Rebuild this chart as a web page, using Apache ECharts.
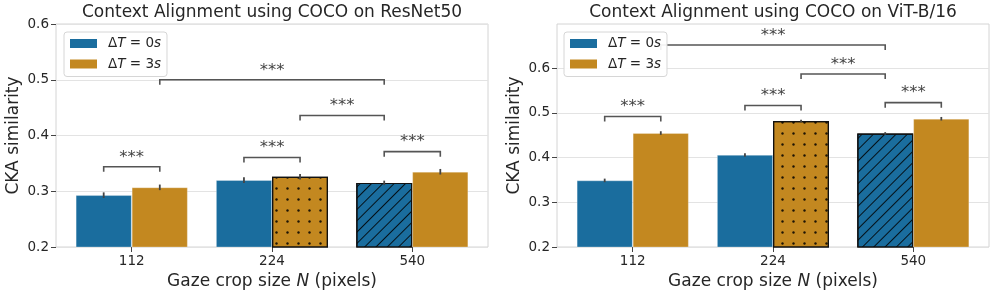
<!DOCTYPE html>
<html><head><meta charset="utf-8">
<script src="https://cdn.jsdelivr.net/npm/echarts@6/dist/echarts.min.js"></script>
<style>html,body{margin:0;padding:0;background:#fff}#c{width:996px;height:295px}</style>
</head><body><div id="c"></div>
<script>
// ---- data ----
const categories = ['112', '224', '540'];
const seriesNames = ['ΔT = 0s', 'ΔT = 3s'];
const resnet0 = [0.293, 0.320, 0.315];
const resnet3 = [0.307, 0.326, 0.335];
const resnet0Err = [0.005, 0.005, 0.004];
const resnet3Err = [0.005, 0.005, 0.005];
const vit0 = [0.349, 0.406, 0.454];
const vit3 = [0.455, 0.482, 0.487];
const vit0Err = [0.004, 0.004, 0.003];
const vit3Err = [0.004, 0.003, 0.004];
// brackets: [category1, group1, category2, group2, y]
const resnetBrackets = [[0,0,0,1,0.344],[1,0,1,1,0.3606],[2,0,2,1,0.371],[1,1,2,0,0.436],[0,1,2,0,0.500]];
const vitBrackets = [[0,0,0,1,0.492],[1,0,1,1,0.5165],[2,0,2,1,0.523],[1,1,2,0,0.587],[0,1,2,0,0.652]];
const yTickValues = [0.2, 0.3, 0.4, 0.5, 0.6];
const titles = ['Context Alignment using COCO on ResNet50', 'Context Alignment using COCO on ViT-B/16'];

// ---- style ----
const FONT = 'DejaVu Sans';
const BLUE = '#1a6d9e', ORANGE = '#c38820', TXT = '#262626';
const OFF = 0.2; // half group offset in category units
const decalDots = { symbol: 'circle', symbolSize: 0.8, color: 'rgba(0,0,0,0.85)', dashArrayX: [3, 8], dashArrayY: [3, 8] };
const decalLines = { symbol: 'rect', symbolSize: 1, color: 'rgba(0,0,0,0.85)', dashArrayX: [1, 0], dashArrayY: [1, 7], rotation: -Math.PI / 4 };

const grids = [
  { left: 56, right: 508, top: 24, bottom: 48 },
  { left: 557, right: 7, top: 24, bottom: 48 }
];

function xAxisFor(gi) {
  return {
    type: 'value', gridIndex: gi, min: -0.54, max: 2.54,
    axisLine: { show: false, onZero: false }, splitLine: { show: false },
    axisTick: { show: true, customValues: [0, 1, 2], length: 5, lineStyle: { color: '#444', width: 1 } },
    axisLabel: { customValues: [0, 1, 2], formatter: v => categories[Math.round(v)], fontSize: 13.5, fontFamily: FONT, color: TXT, margin: 7 },
    name: '{a|Gaze crop size }{i|N}{a| (pixels)}', nameLocation: 'middle', nameGap: 23,
    nameTextStyle: { fontFamily: FONT, fontSize: 17, color: TXT, rich: { a: { fontFamily: FONT, fontSize: 17, color: TXT }, i: { fontFamily: FONT, fontSize: 17, color: TXT, fontStyle: 'italic' } } }
  };
}
function yAxisFor(gi, max) {
  return {
    type: 'value', gridIndex: gi, min: 0.2, max: max, interval: 0.1,
    axisLine: { show: false, onZero: false },
    axisTick: { show: true, customValues: yTickValues, length: 5, lineStyle: { color: '#444', width: 1 } },
    axisLabel: { customValues: yTickValues, formatter: v => v.toFixed(1), fontSize: 13.5, fontFamily: FONT, color: TXT, margin: 7 },
    splitLine: { show: true, lineStyle: { color: '#e3e3e3', width: 1 } },
    name: 'CKA similarity', nameLocation: 'middle', nameGap: 34,
    nameTextStyle: { fontFamily: FONT, fontSize: 17, color: TXT }
  };
}

function barSeries(gi, vals, idx, specialIdx, decal) {
  return {
    type: 'bar', name: seriesNames[idx], xAxisIndex: gi, yAxisIndex: gi,
    barWidth: 56, barGap: '0%', z: 2,
    itemStyle: { color: idx === 0 ? BLUE : ORANGE, borderColor: 'rgba(255,255,255,0.35)', borderWidth: 0.8 },
    data: vals.map((v, i) => i === specialIdx
      ? { value: [i, v], itemStyle: { decal: decal, borderColor: '#111', borderWidth: 1.2 } }
      : { value: [i, v] }),
    emphasis: { disabled: true }, silent: true, animation: false
  };
}
function errSeries(gi, vals, errs, g) {
  return {
    type: 'custom', xAxisIndex: gi, yAxisIndex: gi, z: 5, silent: true, animation: false,
    data: vals.map((v, i) => [i + (g ? OFF : -OFF), v - errs[i], v + errs[i]]),
    renderItem(params, api) {
      const p1 = api.coord([api.value(0), api.value(1)]);
      const p2 = api.coord([api.value(0), api.value(2)]);
      return { type: 'line', shape: { x1: p1[0], y1: p1[1], x2: p2[0], y2: p2[1] }, style: { stroke: '#444', lineWidth: 1.8 } };
    }
  };
}
function bracketSeries(gi, brackets) {
  return {
    type: 'custom', xAxisIndex: gi, yAxisIndex: gi, z: 3, silent: true, animation: false, clip: false,
    data: brackets.map(b => [b[0] + (b[1] ? OFF : -OFF), b[2] + (b[3] ? OFF : -OFF), b[4]]),
    renderItem(params, api) {
      const a = api.coord([api.value(0), api.value(2)]);
      const b = api.coord([api.value(1), api.value(2)]);
      const leg = 5;
      return {
        type: 'group', children: [
          { type: 'polyline', shape: { points: [[a[0], a[1] + leg], [a[0], a[1]], [b[0], b[1]], [b[0], b[1] + leg]] },
            style: { stroke: '#555', lineWidth: 1.6, fill: null } },
          { type: 'text', x: (a[0] + b[0]) / 2, y: a[1] - 1,
            style: { text: '***', fontFamily: FONT, fontSize: 16.5, fill: '#444', align: 'center', verticalAlign: 'bottom' } }
        ]
      };
    }
  };
}

function legendFor(left) {
  const rich = {
    g: { width: 6 },
    u: { fontFamily: FONT, fontSize: 13.5, color: TXT, lineHeight: 15 },
    i: { fontFamily: FONT, fontSize: 13.5, color: TXT, fontStyle: 'italic', lineHeight: 15 }
  };
  return {
    data: seriesNames, left: left, top: 32, orient: 'vertical',
    icon: 'rect', itemWidth: 27, itemHeight: 9, itemGap: 5.5,
    padding: [4, 6, 5, 6], backgroundColor: 'rgba(255,255,255,0.92)', borderColor: '#d6d6d6', borderWidth: 1, borderRadius: 3,
    itemStyle: { borderWidth: 0, decal: 'none' }, selectedMode: false, z: 10,
    formatter: name => {
      const parts = name.match(/ΔT = (\d)s/);
      return '{g|}{u|Δ}{i|T}{u| = ' + parts[1] + '}{i|s}';
    },
    textStyle: { fontFamily: FONT, fontSize: 13.5, color: TXT, lineHeight: 15, rich: rich }
  };
}

const chart = echarts.init(document.getElementById('c'), null, { renderer: 'canvas' });
chart.setOption({
  animation: false,
  backgroundColor: '#fff',
  grid: grids.map(g => Object.assign({ show: true, borderColor: '#d4d4d4', borderWidth: 1, backgroundColor: 'transparent', containLabel: false, outerBoundsMode: 'none' }, g)),
  xAxis: [xAxisFor(0), xAxisFor(1)],
  yAxis: [yAxisFor(0, 0.6), yAxisFor(1, 0.699)],
  legend: [legendFor(64), legendFor(564)],
  graphic: [
    { type: 'text', x: 272, y: 13, style: { text: titles[0], fontFamily: FONT, fontSize: 17, fill: TXT, align: 'center', verticalAlign: 'middle' } },
    { type: 'text', x: 773, y: 13, style: { text: titles[1], fontFamily: FONT, fontSize: 17, fill: TXT, align: 'center', verticalAlign: 'middle' } }
  ],
  series: [
    barSeries(0, resnet0, 0, 2, decalLines),
    barSeries(0, resnet3, 1, 1, decalDots),
    barSeries(1, vit0, 0, 2, decalLines),
    barSeries(1, vit3, 1, 1, decalDots),
    errSeries(0, resnet0, resnet0Err, 0),
    errSeries(0, resnet3, resnet3Err, 1),
    errSeries(1, vit0, vit0Err, 0),
    errSeries(1, vit3, vit3Err, 1),
    bracketSeries(0, resnetBrackets),
    bracketSeries(1, vitBrackets)
  ]
});
</script></body></html>
